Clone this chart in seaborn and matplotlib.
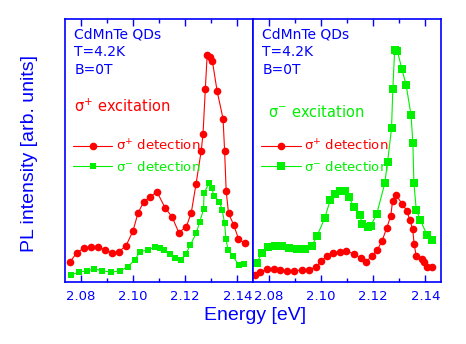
import numpy as np
import pandas as pd
import matplotlib
matplotlib.use("Agg")
import matplotlib.pyplot as plt
import seaborn as sns
from matplotlib.ticker import MultipleLocator

sns.set_style("white")
plt.rcParams['font.family'] = ['DejaVu Sans']
plt.rcParams['mathtext.fontset'] = 'dejavusans'

BLUE = '#0000ff'
RED = '#ff0000'
GREEN = '#00f000'

# ---- Data ----
# Left panel: sigma+ excitation
L_red_E = [2.0758, 2.0783, 2.0812, 2.0838, 2.0864, 2.0892, 2.0918, 2.0944, 2.0972, 2.0999,
           2.1018, 2.1040, 2.1065, 2.1091, 2.1123, 2.1149, 2.1175, 2.1204, 2.1223, 2.1241,
           2.1261, 2.1268, 2.1277, 2.1284, 2.1293, 2.1304, 2.1322, 2.1345, 2.1351, 2.1357,
           2.1366, 2.1386, 2.1404, 2.1428]
L_red_I = [0.077, 0.111, 0.130, 0.134, 0.134, 0.122, 0.111, 0.115, 0.137, 0.194,
           0.261, 0.305, 0.324, 0.343, 0.281, 0.248, 0.188, 0.210, 0.264, 0.371,
           0.498, 0.562, 0.735, 0.864, 0.854, 0.840, 0.727, 0.621, 0.498, 0.346,
           0.261, 0.217, 0.165, 0.147]
L_grn_E = [2.0762, 2.0790, 2.0822, 2.0851, 2.0882, 2.0915, 2.0950, 2.0980, 2.1005, 2.1027,
           2.1055, 2.1082, 2.1101, 2.1120, 2.1142, 2.1162, 2.1182, 2.1202, 2.1219, 2.1242,
           2.1255, 2.1270, 2.1272, 2.1290, 2.1303, 2.1309, 2.1331, 2.1342, 2.1351, 2.1356,
           2.1364, 2.1383, 2.1405, 2.1427]
L_grn_I = [0.027, 0.037, 0.043, 0.049, 0.043, 0.037, 0.043, 0.058, 0.084, 0.115,
           0.122, 0.132, 0.128, 0.120, 0.105, 0.091, 0.084, 0.106, 0.141, 0.185,
           0.228, 0.276, 0.337, 0.375, 0.356, 0.327, 0.306, 0.272, 0.223, 0.165,
           0.122, 0.098, 0.065, 0.068]

# Right panel: sigma- excitation
R_red_E = [2.0746, 2.0765, 2.0792, 2.0817, 2.0842, 2.0867, 2.0897, 2.0926, 2.0953, 2.0980,
           2.1001, 2.1021, 2.1046, 2.1071, 2.1096, 2.1127, 2.1152, 2.1173, 2.1195, 2.1216,
           2.1234, 2.1252, 2.1267, 2.1274, 2.1288, 2.1311, 2.1329, 2.1340, 2.1351, 2.1357,
           2.1365, 2.1386, 2.1394, 2.1406, 2.1425]
R_red_I = [0.025, 0.039, 0.048, 0.048, 0.047, 0.041, 0.042, 0.046, 0.046, 0.058,
           0.080, 0.099, 0.110, 0.115, 0.117, 0.107, 0.091, 0.077, 0.100, 0.123,
           0.157, 0.207, 0.251, 0.308, 0.329, 0.297, 0.271, 0.236, 0.203, 0.143,
           0.098, 0.088, 0.077, 0.058, 0.058]
R_grn_E = [2.0753, 2.0772, 2.0797, 2.0823, 2.0849, 2.0878, 2.0907, 2.0936, 2.0964, 2.0984,
           2.1013, 2.1035, 2.1054, 2.1073, 2.1093, 2.1105, 2.1126, 2.1148, 2.1158, 2.1178,
           2.1190, 2.1213, 2.1244, 2.1255, 2.1270, 2.1275, 2.1282, 2.1292, 2.1310, 2.1326,
           2.1345, 2.1352, 2.1356, 2.1365, 2.1381, 2.1406, 2.1425]
R_grn_I = [0.073, 0.109, 0.132, 0.137, 0.137, 0.128, 0.125, 0.125, 0.137, 0.175,
           0.242, 0.312, 0.335, 0.347, 0.347, 0.324, 0.286, 0.253, 0.220, 0.210,
           0.213, 0.258, 0.375, 0.458, 0.584, 0.733, 0.882, 0.880, 0.809, 0.749,
           0.635, 0.527, 0.375, 0.275, 0.235, 0.179, 0.160]

xticks = [2.08, 2.10, 2.12, 2.14]
xtick_labels = ["2.08", "2.10", "2.12", "2.14"]

fig = plt.figure(figsize=(4.66, 3.44), dpi=100)
fig.patch.set_facecolor('white')
axL = fig.add_axes([65/466, 62/344, 188/466, 263/344])
axR = fig.add_axes([253/466, 62/344, 188/466, 263/344])

def draw(ax, rE, rI, gE, gI, rms, gms):
    sns.lineplot(x=rE, y=rI, ax=ax, color=RED, lw=0.8, marker='o', markersize=rms,
                 markeredgewidth=0, sort=False, label='σ$^{+}$ detection')
    sns.lineplot(x=gE, y=gI, ax=ax, color=GREEN, lw=0.8, marker='s', markersize=gms,
                 markeredgewidth=0, sort=False, label='σ$^{-}$ detection')
    ax.set_xlim(2.0738, 2.1460)
    ax.set_ylim(0, 1)
    ax.set_yticks([])
    ax.set_xticks(xticks)
    ax.set_xticklabels(xtick_labels)
    ax.xaxis.set_minor_locator(MultipleLocator(0.01))
    ax.tick_params(axis='x', which='both', direction='in', top=True, bottom=True,
                   colors=BLUE, labelcolor=BLUE, labelsize=9.5, pad=6)
    ax.tick_params(axis='x', which='major', length=5, width=1)
    ax.tick_params(axis='x', which='minor', length=3, width=1)
    for s in ax.spines.values():
        s.set_color(BLUE)
        s.set_linewidth(1.2)
    ax.set_xlabel('')
    ax.set_ylabel('')
    leg = ax.legend(loc='upper left', bbox_to_anchor=(0.0, 0.575), frameon=False,
                    fontsize=9.5, handlelength=3.0, handletextpad=0.25, labelspacing=0.45,
                    borderaxespad=0.2)
    leg.get_texts()[0].set_color(RED)
    leg.get_texts()[1].set_color(GREEN)

draw(axL, L_red_E, L_red_I, L_grn_E, L_grn_I, 5.5, 5.0)
draw(axR, R_red_E, R_red_I, R_grn_E, R_grn_I, 5.5, 5.2)

for ax in (axL, axR):
    ax.text(0.05, 0.94, 'CdMnTe QDs', transform=ax.transAxes, color=BLUE, fontsize=10,
            va='center', ha='left')
    ax.text(0.05, 0.873, 'T=4.2K', transform=ax.transAxes, color=BLUE, fontsize=10,
            va='center', ha='left')
    ax.text(0.05, 0.806, 'B=0T', transform=ax.transAxes, color=BLUE, fontsize=10,
            va='center', ha='left')

axL.text(0.05, 0.667, 'σ$^{+}$ excitation', transform=axL.transAxes, color=RED,
         fontsize=10.5, va='center', ha='left')
axR.text(0.08, 0.645, 'σ$^{-}$ excitation', transform=axR.transAxes, color=GREEN,
         fontsize=10.5, va='center', ha='left')

fig.text(255/466, 1 - 315/344, 'Energy [eV]', color=BLUE, fontsize=14,
         ha='center', va='center', family=['Liberation Sans'])
fig.text(30/466, 1 - 153/344, 'PL intensity [arb. units]', color=BLUE, fontsize=14,
         ha='center', va='center', rotation=90, family=['Liberation Sans'])

fig.savefig('out.png', dpi=100, facecolor='white')
